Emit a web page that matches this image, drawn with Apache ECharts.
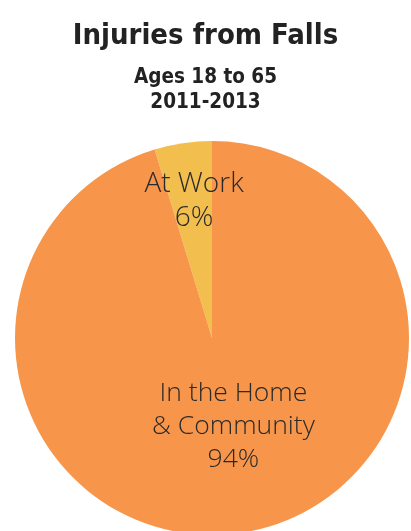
<!DOCTYPE html>
<html>
<head>
<meta charset="utf-8">
<script src="https://cdn.jsdelivr.net/npm/echarts@6/dist/echarts.min.js"></script>
<style>html,body{margin:0;padding:0;background:#fff;}#c{width:411px;height:531px;}</style>
</head>
<body>
<div id="c"></div>
<script>
// Data
var titleText = 'Injuries from Falls';
var subtitleLines = ['Ages 18 to 65', '2011-2013'];
var categories = ['At Work', 'In the Home\n& Community'];
// slice sizes as drawn in the reference picture
var sliceValues = [4.7, 95.3];
// percentages printed on the chart
var percentLabels = ['6%', '94%'];
var colors = ['#F2BE4E', '#F7964A'];

var chart = echarts.init(document.getElementById('c'), null, {renderer: 'canvas'});
var labelFont = '"Open Sans", "Noto Sans", sans-serif';
var spacers = [74, 24];
var data = categories.map(function (c, i) {
  return {
    name: c,
    value: sliceValues[i],
    itemStyle: {color: colors[i]},
    label: i === 0 ? {
      fontSize: 28, lineHeight: 34, padding: [0, 6, 0, 0]
    } : {
      fontSize: 26.5, lineHeight: 33, padding: [0, 0, 0, 13]
    }
  };
});
chart.setOption({
  animation: false,
  title: [{
    text: titleText,
    left: 'center', top: 12,
    textStyle: {fontFamily: '"Liberation Sans Narrow", "DejaVu Sans Condensed", sans-serif', fontWeight: 'bold', fontSize: 29, lineHeight: 38, color: '#222'}
  }, {
    text: subtitleLines.join('\n'),
    left: 'center', top: 60,
    textStyle: {fontFamily: '"Liberation Sans Narrow", "DejaVu Sans Condensed", sans-serif', fontWeight: 'bold', fontSize: 20.5, lineHeight: 25, color: '#222'}
  }],
  series: [{
    type: 'pie',
    center: [212, 338],
    radius: 197,
    startAngle: 90,
    clockwise: false,
    itemStyle: {borderWidth: 0},
    label: {
      show: true, position: 'inside',
      fontFamily: labelFont, fontWeight: 300, color: '#2a2a2a',
      formatter: function (p) {
        return p.name + '\n' + percentLabels[p.dataIndex] + '\n{sp' + p.dataIndex + '| }';
      },
      rich: {
        sp0: {lineHeight: spacers[0], fontSize: 10},
        sp1: {lineHeight: spacers[1], fontSize: 10}
      }
    },
    labelLine: {show: false},
    emphasis: {disabled: true},
    data: data
  }]
});
</script>
</body>
</html>
